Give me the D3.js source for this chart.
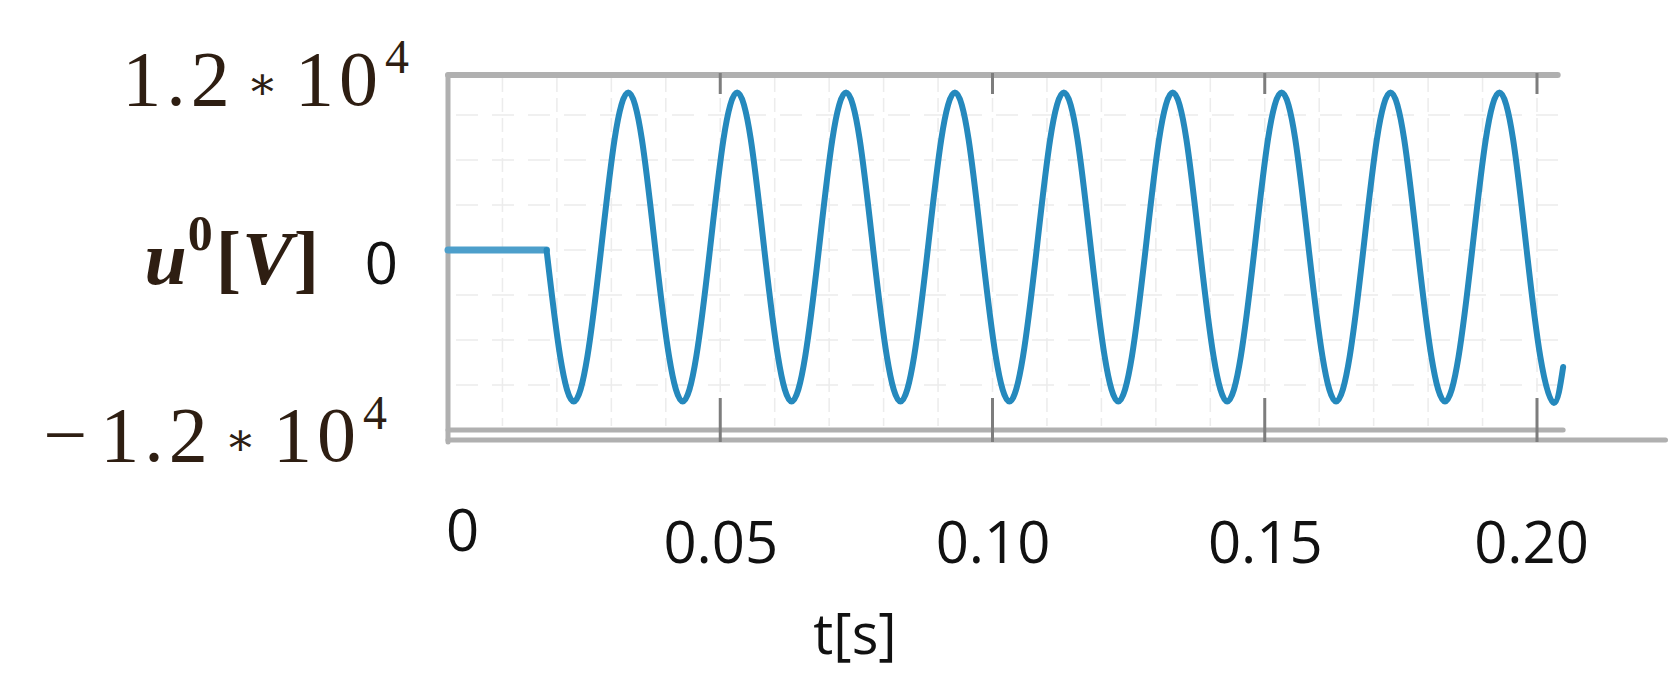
<!DOCTYPE html>
<html>
<head>
<meta charset="utf-8">
<script src="https://cdn.jsdelivr.net/npm/d3@7"></script>
<style>
  html, body { margin: 0; padding: 0; background: #fff; }
  svg { display: block; }
</style>
</head>
<body>
<svg id="chart"></svg>
<script>
// values: t in seconds, u0 in volts
// flat part before the switching instant
const flatT = [0, 0.0181];
const flatU = [0, 0];
// oscillation after switching
const timeS = [
  0.0181,
  0.0206, 0.0231, 0.0256, 0.0281, 0.0306, 0.0331, 0.0356, 0.0381,
  0.0406, 0.0431, 0.0456, 0.0481, 0.0506, 0.0531, 0.0556, 0.0581,
  0.0606, 0.0631, 0.0656, 0.0681, 0.0706, 0.0731, 0.0756, 0.0781,
  0.0806, 0.0831, 0.0856, 0.0881, 0.0906, 0.0931, 0.0956, 0.0981,
  0.1006, 0.1031, 0.1056, 0.1081, 0.1106, 0.1131, 0.1156, 0.1181,
  0.1206, 0.1231, 0.1256, 0.1281, 0.1306, 0.1331, 0.1356, 0.1381,
  0.1406, 0.1431, 0.1456, 0.1481, 0.1506, 0.1531, 0.1556, 0.1581,
  0.1606, 0.1631, 0.1656, 0.1681, 0.1706, 0.1731, 0.1756, 0.1781,
  0.1806, 0.1831, 0.1856, 0.1881, 0.1906, 0.1931, 0.1956, 0.1981,
  0.2006, 0.2031, 0.2048
];
const voltV = [
  0,
  -7100, -10100, -7100, 0, 7400, 10500, 7400, 0,
  -7100, -10100, -7100, 0, 7400, 10500, 7400, 0,
  -7100, -10100, -7100, 0, 7400, 10500, 7400, 0,
  -7100, -10100, -7100, 0, 7400, 10500, 7400, 0,
  -7100, -10100, -7100, 0, 7400, 10500, 7400, 0,
  -7100, -10100, -7100, 0, 7400, 10500, 7400, 0,
  -7100, -10100, -7100, 0, 7400, 10500, 7400, 0,
  -7100, -10100, -7100, 0, 7400, 10500, 7400, 0,
  -7100, -10100, -7100, 0, 7400, 10500, 7400, 0,
  -7100, -10200, -7800
];

const xTicks = [0, 0.05, 0.10, 0.15, 0.20];
const xTickLabels = ["0", "0.05", "0.10", "0.15", "0.20"];
const xGrid = [0.01, 0.02, 0.03, 0.04, 0.05, 0.06, 0.07, 0.08, 0.09, 0.10,
               0.11, 0.12, 0.13, 0.14, 0.15, 0.16, 0.17, 0.18, 0.19, 0.20];
const yGrid = [-9000, -6000, -3000, 0, 3000, 6000, 9000];
const yLimits = [-12000, 12000];

const W = 1676, H = 699;
const svg = d3.select("#chart").attr("width", W).attr("height", H);

const x = d3.scaleLinear().domain([0, 0.2]).range([448, 1537]);
const y = d3.scaleLinear().domain(yLimits).range([430, 70]);

const flat = flatT.map((t, i) => ({ t: t, u: flatU[i] }));
const wave = timeS.map((t, i) => ({ t: t, u: voltV[i] }));

// faint dotted grid
svg.append("g").selectAll("line")
    .data(xGrid)
    .enter().append("line")
    .attr("x1", d => x(d)).attr("x2", d => x(d))
    .attr("y1", y(12000) + 8).attr("y2", y(-12000) - 4)
    .attr("stroke", "#ececec")
    .attr("stroke-width", 1.5)
    .attr("stroke-dasharray", "14,6");

svg.append("g").selectAll("line")
    .data(yGrid)
    .enter().append("line")
    .attr("x1", x(0) + 8).attr("x2", x(0.2048))
    .attr("y1", d => y(d)).attr("y2", d => y(d))
    .attr("stroke", "#ececec")
    .attr("stroke-width", 1.5)
    .attr("stroke-dasharray", "22,14");

// frame
const frame = svg.append("g")
    .attr("stroke", "#b0b0b0")
    .attr("stroke-linecap", "round");
frame.append("line")
    .attr("x1", x(0)).attr("x2", x(0.2038))
    .attr("y1", y(12000) + 5).attr("y2", y(12000) + 5)
    .attr("stroke-width", 6);
frame.append("line")
    .attr("x1", x(0)).attr("x2", x(0))
    .attr("y1", y(12000) + 5).attr("y2", y(-12000) + 12)
    .attr("stroke-width", 5);
frame.append("line")
    .attr("x1", x(0)).attr("x2", x(0.2048))
    .attr("y1", y(-12000)).attr("y2", y(-12000))
    .attr("stroke-width", 5);
frame.append("line")
    .attr("x1", x(0)).attr("x2", x(0.2236))
    .attr("y1", y(-12000) + 10).attr("y2", y(-12000) + 10)
    .attr("stroke-width", 5);

// tick marks at top and bottom
const tickG = svg.append("g").attr("stroke", "#7d7d7d").attr("stroke-width", 3);
tickG.selectAll(".tt")
    .data(xTicks.slice(1))
    .enter().append("line")
    .attr("x1", d => x(d)).attr("x2", d => x(d))
    .attr("y1", y(12000) + 3).attr("y2", y(12000) + 24);
tickG.selectAll(".tb")
    .data(xTicks.slice(1))
    .enter().append("line")
    .attr("x1", d => x(d)).attr("x2", d => x(d))
    .attr("y1", y(-12000) - 32).attr("y2", y(-12000) + 12);

// the signal
const flatLine = d3.line()
    .x(d => x(d.t))
    .y(d => y(d.u));
const waveLine = d3.line()
    .x(d => x(d.t))
    .y(d => y(d.u))
    .curve(d3.curveNatural);

const sig = svg.append("g")
    .attr("fill", "none")
    .attr("stroke", "#2589bd")
    .attr("stroke-width", 6)
    .attr("stroke-linejoin", "round")
    .attr("stroke-linecap", "round");
sig.append("path").datum(flat).attr("d", flatLine).attr("stroke", "#4d9fcb").attr("stroke-width", 7);
sig.append("path").datum(wave).attr("d", waveLine);

// x axis labels
const xAxis = d3.axisBottom(x)
    .tickValues(xTicks)
    .tickSize(0)
    .tickFormat((d, i) => xTickLabels[i]);

const xg = svg.append("g")
    .attr("transform", `translate(0,${y(-12000)})`)
    .call(xAxis);
xg.select(".domain").remove();
xg.selectAll("text")
    .attr("dy", 0)
    .attr("y", 133)
    .attr("font-family", "'Open Sans', sans-serif")
    .attr("font-size", 58)
    .attr("fill", "#111")
    .attr("transform", (d, i) => i === 0 ? "translate(14,-12)" : (i === 4 ? "translate(-6,0)" : null));

svg.append("text")
    .attr("x", 855)
    .attr("y", 654)
    .attr("text-anchor", "middle")
    .attr("font-family", "'Open Sans', sans-serif")
    .attr("font-size", 56)
    .attr("fill", "#111")
    .text("t[s]");

// y labels, Mathcad style
const serif = "'Liberation Serif', 'DejaVu Serif', serif";
const ink = "#2e1e12";

function power(sel, lead) {
    sel.append("tspan").text(lead);
    sel.append("tspan").attr("font-size", 46).attr("dy", -6).attr("dx", 12).text("\u2217");
    sel.append("tspan").attr("dy", 6).attr("dx", 12).text("10");
    sel.append("tspan").attr("font-size", 48).attr("dy", -32).attr("dx", 2).text("4");
}

const topLabel = svg.append("text")
    .attr("x", 414).attr("y", 105)
    .attr("text-anchor", "end")
    .attr("font-family", serif)
    .attr("font-size", 78)
    .attr("letter-spacing", 5)
    .attr("fill", ink);
power(topLabel, "1.2");

const botLabel = svg.append("text")
    .attr("x", 392).attr("y", 461)
    .attr("text-anchor", "end")
    .attr("font-family", serif)
    .attr("font-size", 78)
    .attr("letter-spacing", 5)
    .attr("fill", ink);
botLabel.append("tspan").text("\u2212");
power(botLabel.append("tspan").attr("dx", 8), "1.2");

svg.append("text")
    .attr("x", 398).attr("y", 284)
    .attr("text-anchor", "end")
    .attr("font-family", "'Open Sans', sans-serif")
    .attr("font-size", 58)
    .attr("fill", "#111")
    .text("0");

const yTitle = svg.append("text")
    .attr("x", 320).attr("y", 284)
    .attr("text-anchor", "end")
    .attr("font-family", serif)
    .attr("font-size", 76)
    .attr("font-weight", "bold")
    .attr("letter-spacing", 1)
    .attr("fill", ink);
yTitle.append("tspan").attr("font-style", "italic").text("u");
yTitle.append("tspan").attr("font-size", 50).attr("dy", -34).text("0");
yTitle.append("tspan").attr("dy", 34).attr("dx", 2).text("[");
yTitle.append("tspan").attr("font-style", "italic").text("V");
yTitle.append("tspan").text("]");
</script>
</body>
</html>
